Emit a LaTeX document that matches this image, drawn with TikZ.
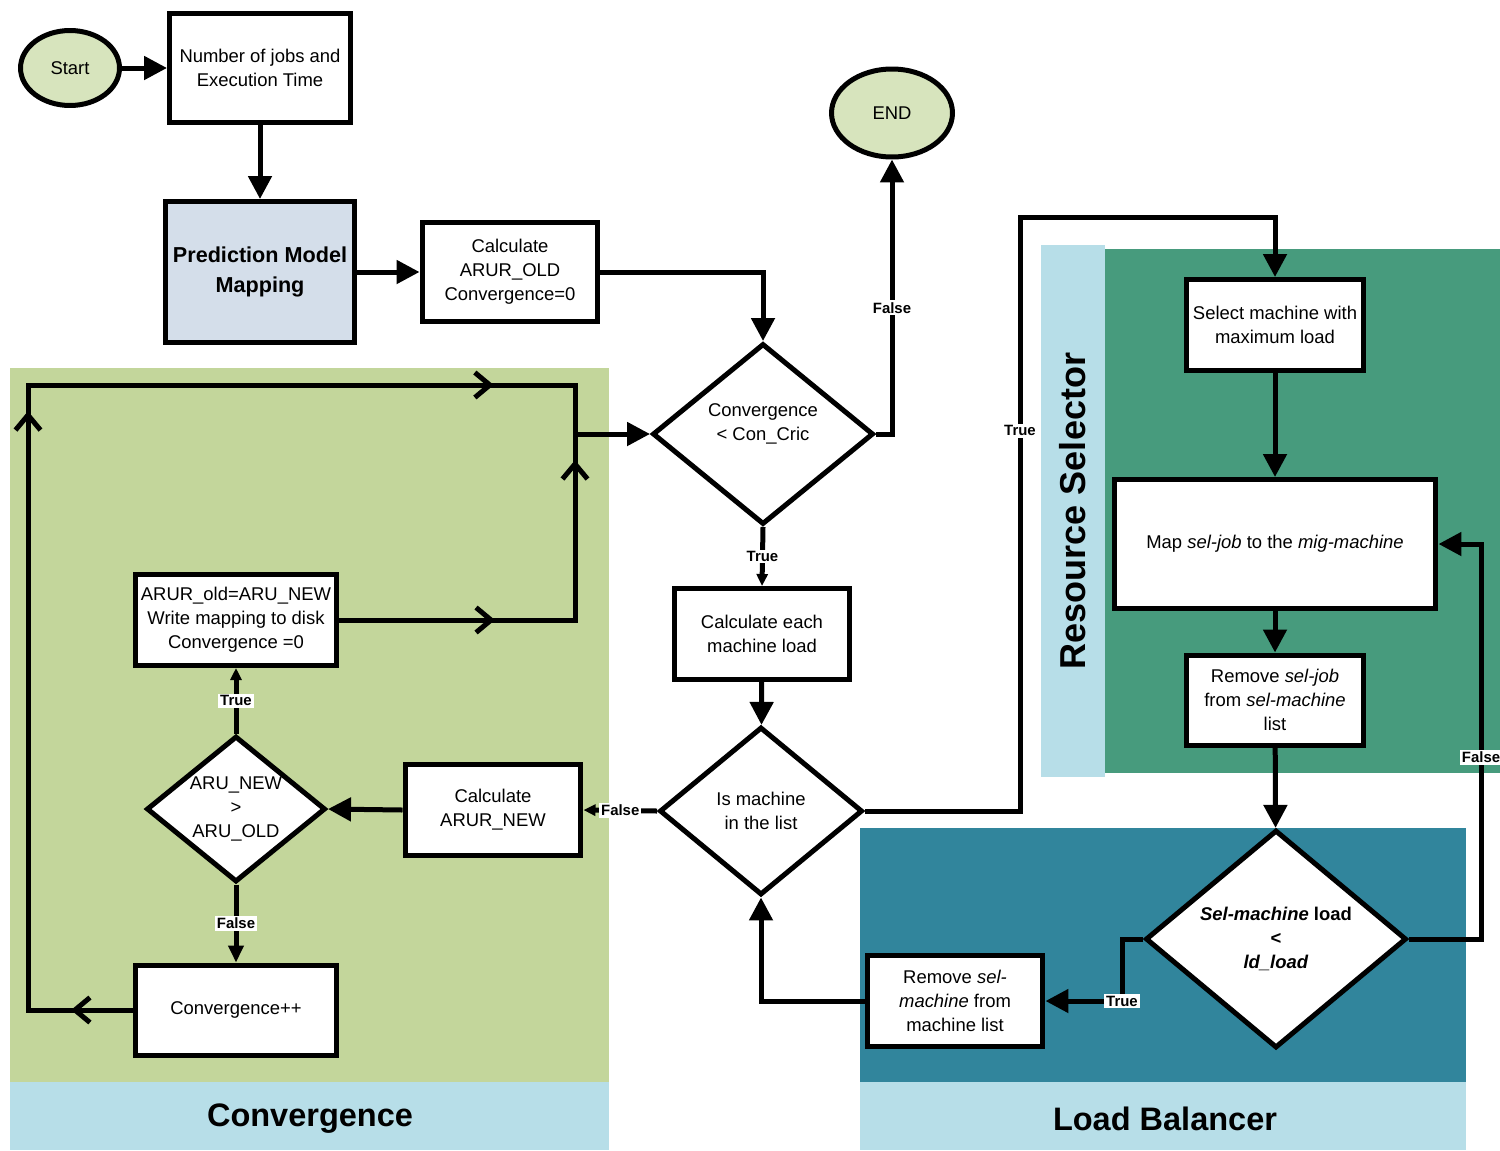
\documentclass[tikz,border=0pt]{standalone}
\usepackage{fontspec}
\setmainfont{Liberation Sans}
\usetikzlibrary{shapes.geometric,arrows.meta,positioning,decorations.markings}
\definecolor{termcol}{HTML}{D7E4BD}
\definecolor{predcol}{HTML}{D4DEEA}
\definecolor{convcol}{HTML}{C3D69B}
\definecolor{stripcol}{HTML}{B7DEE8}
\definecolor{rescol}{HTML}{479B7D}
\definecolor{lbcol}{HTML}{31859C}

\begin{document}
\begin{tikzpicture}[
    x=0.02cm, y=-0.02cm,
    >={Triangle[length=0.46cm, width=0.46cm]},
    chev/.tip={Straight Barb[length=0.3cm, width=0.5cm]},
    flow/.style={line width=0.1cm},
    shortarrow/.style={-{Triangle[length=0.24cm, width=0.22cm]}},
    midarrow/.style={-{Triangle[length=0.34cm, width=0.3cm]}},
    proc/.style={rectangle, draw, line width=0.1cm, fill=white, align=center, inner sep=2pt, font=\fontsize{10.5}{13.6}\selectfont},
    term/.style={ellipse, draw, line width=0.1cm, fill=termcol, font=\fontsize{10.5}{13.6}\selectfont},
    decide/.style={diamond, aspect=1.25, draw, line width=0.1cm, fill=white, align=center, inner sep=0pt, font=\fontsize{10.5}{13.6}\selectfont},
    lbl/.style={fill=white, inner sep=1pt, font=\bfseries\fontsize{8.5}{10}\selectfont},
    title/.style={font=\bfseries\fontsize{18.5}{22}\selectfont},
]
\useasboundingbox (0,0) rectangle (1500,1150);

% regions
\fill[convcol] (10,368) rectangle (609,1082);
\fill[stripcol] (10,1082) rectangle (609,1150);
\fill[stripcol] (1041,245) rectangle (1105,777);
\fill[rescol] (1105,249) rectangle (1500,773);
\fill[lbcol] (860,828) rectangle (1466,1082);
\fill[stripcol] (860,1082) rectangle (1466,1150);
\node[title] (convtitle) at (310,1119) {Convergence};
\node[title] (lbtitle) at (1165,1119) {Load Balancer};
\node[title, font=\bfseries\fontsize{20.5}{24}\selectfont, rotate=90] (rstitle) at (1073,511) {Resource Selector};

\node[term, minimum width=1.98cm, minimum height=1.5cm] (start) at (70,68) {Start};
\node[proc, minimum width=3.62cm, minimum height=2.2cm] (jobs) at (260,68) {Number of jobs and\\Execution Time};
\node[proc, fill=predcol, minimum width=3.8cm, minimum height=2.82cm, font=\bfseries\fontsize{12.3}{17}\selectfont] (pred) at (260,272) {Prediction Model\\Mapping};
\node[proc, minimum width=3.52cm, minimum height=2cm] (aruold) at (510,272) {Calculate\\ARUR\_OLD\\Convergence=0};
\node[term, minimum width=2.42cm, minimum height=1.76cm] (fin) at (892,113) {END};
\node[decide, minimum width=4.42cm, minimum height=3.62cm] (conv) at (763,434) {Convergence\\< Con\_Cric\\\mbox{}};
\node[proc, minimum width=3.52cm, minimum height=1.82cm] (calcload) at (762,634) {Calculate each\\machine load};
\node[decide, minimum width=4.06cm, minimum height=3.36cm] (ismach) at (761,811) {Is machine\\in the list};

\node[proc, minimum width=3.52cm, minimum height=1.82cm] (arunew) at (493,810) {Calculate\\ARUR\_NEW};
\node[decide, minimum width=3.58cm, minimum height=2.92cm] (aru) at (236,809) {ARU\_NEW\\>\\ARU\_OLD};
\node[proc, minimum width=4.04cm, minimum height=1.82cm] (aruset) at (236,620) {ARUR\_old=ARU\_NEW\\Write mapping to disk\\Convergence =0};
\node[proc, minimum width=4.04cm, minimum height=1.8cm] (convpp) at (236,1010) {Convergence++};

\node[proc, minimum width=3.54cm, minimum height=1.82cm] (select) at (1275,325) {Select machine with\\maximum load};
\node[proc, minimum width=6.44cm, minimum height=2.58cm] (map) at (1275,544) {Map \textit{sel-job} to the \textit{mig-machine}};
\node[proc, minimum width=3.54cm, minimum height=1.8cm] (remjob) at (1275,700) {Remove \textit{sel-job}\\from \textit{sel-machine}\\list};
\node[decide, minimum width=5.22cm, minimum height=4.36cm, font=\bfseries\fontsize{10.5}{13.6}\selectfont] (selload) at (1276,939) {\textit{Sel-machine} load\\<\\\textit{ld\_load}};
\node[proc, minimum width=3.52cm, minimum height=1.82cm] (remmach) at (955,1001) {Remove \textit{sel-}\\\textit{machine} from\\machine list};

\coordinate (rtA) at (1020,217);
\coordinate (rtB) at (1481,544);
\coordinate (rtC) at (1122,1001);
\coordinate (lpA) at (28,385);
\coordinate (lpB) at (575,434);

\draw[flow,->] (start) -- (jobs);
\draw[flow,->] (jobs) -- (pred);
\draw[flow,->] (pred) -- (aruold);
\draw[flow,->] (aruold.east) -| (conv.north);
\draw[flow,->] (conv.east) -| node[lbl, pos=0.73] {False} (fin.south);
\draw[flow,shortarrow] (conv.south) -- node[lbl] {True} (calcload.north);
\draw[flow,->] (calcload) -- (ismach);
\draw[flow,->] (ismach.east) -| node[lbl, pos=0.82] {True} (rtA) -| (select.north);
\draw[flow,->] (select) -- (map);
\draw[flow,->] (map) -- (remjob);
\draw[flow,->] (remjob) -- (selload);
\draw[flow,->] (selload.east) -| node[lbl, pos=0.73] {False} (rtB) -- (map.east);
\draw[flow,->] (selload.west) -| (rtC) node[lbl] {True} -- (remmach.east);
\draw[flow,->] (remmach.west) -| (ismach.south);
\draw[flow,shortarrow] (ismach.west) -- node[lbl] {False} (arunew.east);
\draw[flow,->] (arunew.west) -- (aru.east);
\draw[flow,shortarrow] (aru.north) -- node[lbl] {True} (aruset.south);
\draw[flow,midarrow] (aru.south) -- node[lbl] {False} (convpp.north);

% convergence loop
\draw[flow, decoration={markings,
      mark=at position 1.23cm with {\arrow{chev}},
      mark=at position 14.07cm with {\arrow{chev}},
      mark=at position 23.91cm with {\arrow{chev}}}, postaction={decorate}]
  (convpp.west) -| (lpA) -| (lpB);
\draw[flow, decoration={markings,
      mark=at position 3.11cm with {\arrow{chev}},
      mark=at position 7.91cm with {\arrow{chev}}}, postaction={decorate}]
  (aruset.east) -| (lpB);
\draw[flow,->] (lpB) -- (conv.west);

\end{tikzpicture}
\end{document}
